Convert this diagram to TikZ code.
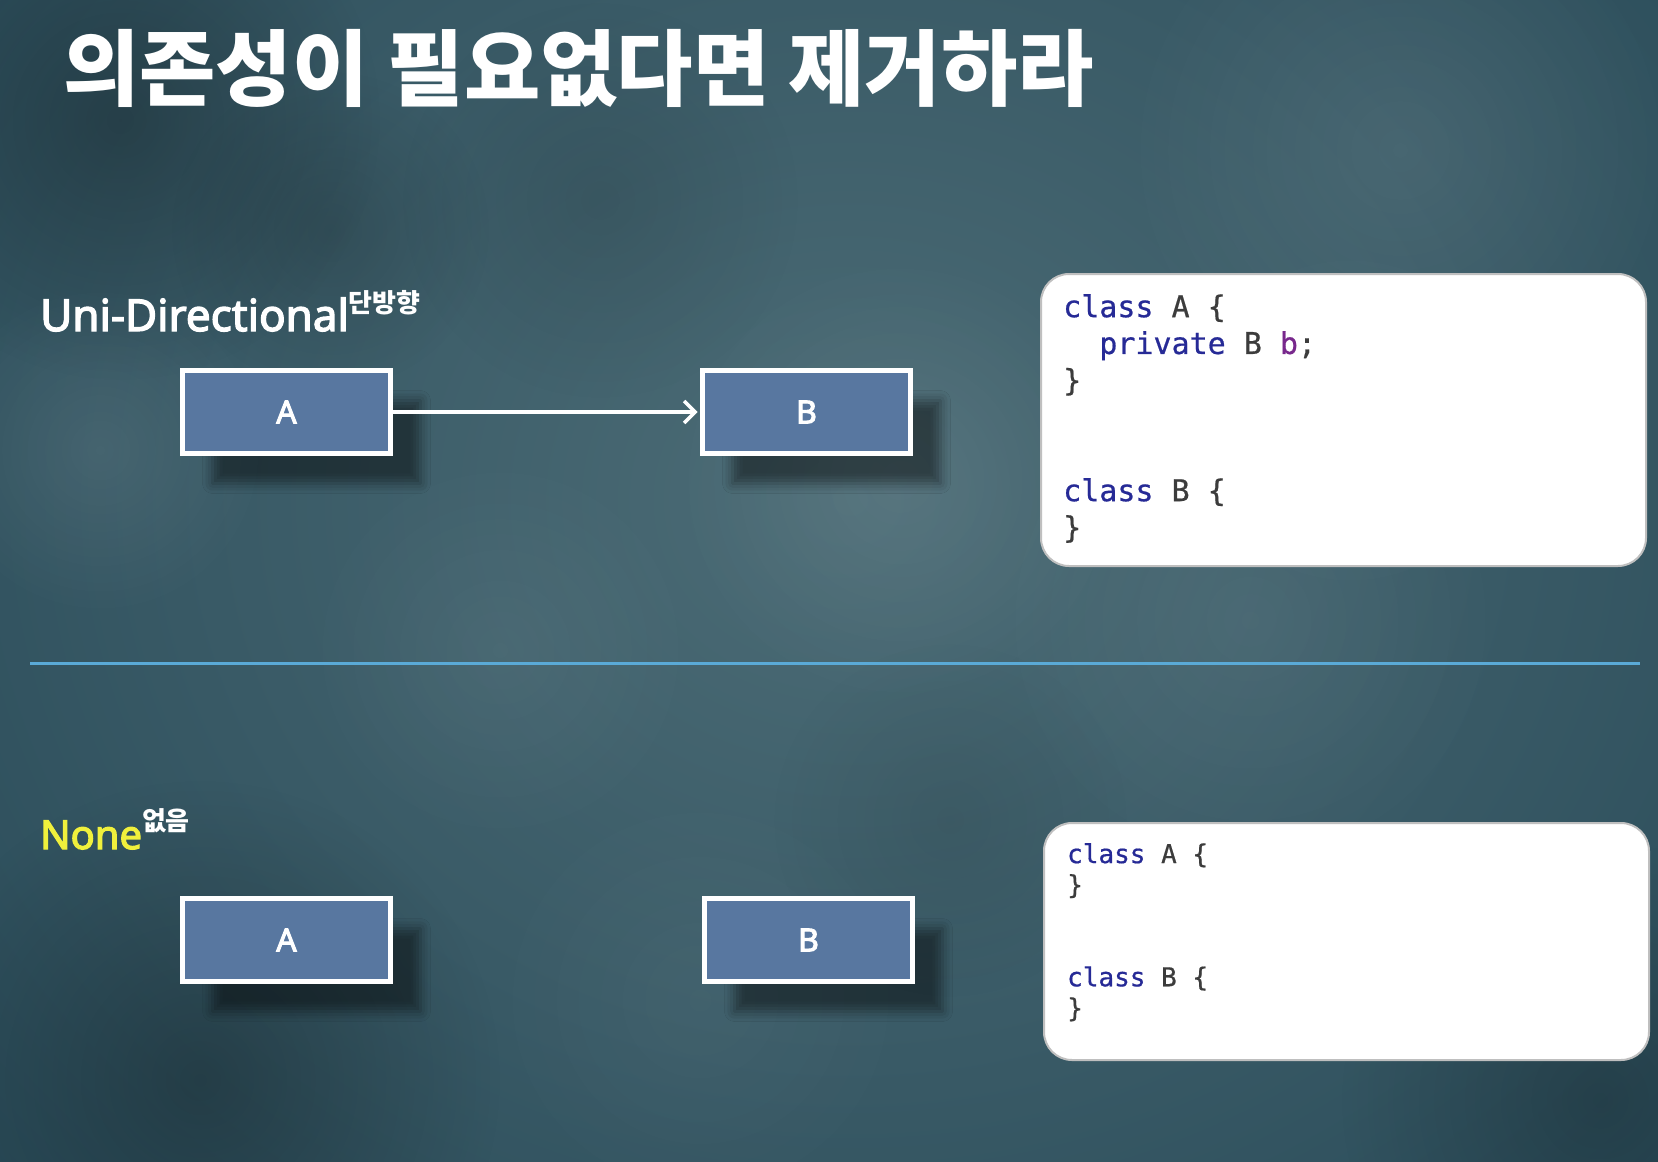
\documentclass[tikz,border=0pt]{standalone}
\usepackage{fontspec}
\setmainfont{Noto Sans}
\newfontfamily\lblfont{Noto Sans}[FakeBold=3]
\newfontfamily\krfont{Noto Sans CJK KR}
\newfontfamily\codefont{DejaVu Sans Mono}[FakeBold=0.6]
\usetikzlibrary{positioning, arrows.meta, shadows.blur, fadings}

\definecolor{bgDark}{RGB}{20,44,56}
\definecolor{bgMid}{RGB}{38,72,86}
\definecolor{bgLight}{RGB}{76,108,118}
\definecolor{boxBlue}{RGB}{88,119,160}
\definecolor{sepBlue}{RGB}{90,170,215}
\definecolor{noneYellow}{RGB}{240,240,60}
\definecolor{kwBlue}{RGB}{38,42,150}
\definecolor{varPurple}{RGB}{120,40,140}
\definecolor{codeGray}{RGB}{60,60,60}

\pgfdeclareradialshading{bgglow}{\pgfpoint{0bp}{0bp}}{color(0bp)=(bgLight); color(28bp)=(bgMid); color(50bp)=(bgDark)}
\tikzfading[name=fuzzy, inner color=transparent!0, outer color=transparent!100]

\newcommand{\kwd}[1]{\textcolor{kwBlue}{#1}}
\newcommand{\supkr}{\krfont\bfseries\fontsize{26}{26}\selectfont}

\begin{document}
\begin{tikzpicture}[
		x=1pt, y=-1pt,
		ttl/.style  = {text=white, inner sep=0pt, font=\krfont\bfseries\fontsize{83}{83}\selectfont},
		lbl/.style  = {text=white, inner sep=0pt, font=\lblfont\fontsize{44}{44}\selectfont},
		cls/.style  = {draw=white, line width=5pt, fill=boxBlue, minimum width=208pt, minimum height=83pt,
			text=white, font=\lblfont\fontsize{32}{32}\selectfont,
			blur shadow={shadow xshift=30pt, shadow yshift=-30pt, shadow blur radius=10pt, shadow opacity=45}},
		code/.style = {draw=gray!50, line width=2pt, fill=white, rounded corners=28pt, minimum width=605pt},
		codetxt/.style = {inner sep=0pt, align=left, text=codeGray},
		arr/.style  = {white, line width=3.5pt, shorten >=2.5pt, -{Straight Barb[length=11pt,width=22pt]}}]
		
		\useasboundingbox (0,0) rectangle (1658,1162);
		
		% background, dark slate with some lighter patches
		\begin{scope}
		\clip (0,0) rectangle (1658,1162);
		\shade[shading=bgglow] (-300,-500) rectangle (2000,1500);
		\foreach \x/\y/\r/\c/\o in {1400/150/280/white/.08, 900/480/230/white/.07, 1250/620/260/white/.06,
			500/650/200/white/.05, 100/450/170/white/.08, 700/1000/220/white/.04, 1350/420/180/white/.05,
			120/120/260/black/.25, 200/1080/300/black/.25, 1600/1100/260/black/.2, 330/230/160/black/.15,
			600/200/200/black/.1, 950/820/180/black/.08}
		\fill[\c, opacity=\o, path fading=fuzzy] (\x,\y) circle (\r);
		\end{scope}
		
		% title
		\node[ttl, anchor=base west] (title) at (63,99) {의존성이 필요없다면 제거하라};
		
		% upper half, A knows B
		\node[lbl, anchor=base west] (uniLbl) at (40,331) {Uni-Directional\raisebox{19pt}{\supkr 단방향}};
		\node[cls] (uniA) at (286.5,412) {A};
		\node[cls, right=307pt of uniA] (uniB) {B};
		\draw[arr] (uniA) -- (uniB);
		
		\node[code, anchor=north west, minimum height=292pt] (codeUni) at (1040,273) {};
		\node[codetxt, anchor=north west, font=\codefont\fontsize{30}{36.8}\selectfont]
			(codeUniTxt) at ([xshift=23pt, yshift=-21pt]codeUni.north west)
			{\kwd{class} A \{\\
			\ \ \kwd{private} B \textcolor{varPurple}{b};\\
			\}\\[73.6pt]
			\kwd{class} B \{\\
			\}};
		
		% separator
		\coordinate (sepL) at (30,663);
		\coordinate (sepR) at (1640,663);
		\draw[sepBlue, line width=3pt] (sepL) -- (sepR);
		
		% lower half, no dependency
		\node[lbl, text=noneYellow, anchor=base west, font=\lblfont\fontsize{40}{40}\selectfont] (noneLbl) at (40,849)
			{None\raisebox{19pt}{\supkr\textcolor{white}{없음}}};
		\node[cls, below=440pt of uniA] (noA) {A};
		\node[cls, right=309pt of noA] (noB) {B};
		
		\node[code, anchor=north west, minimum height=237pt] (codeNone) at (1043,822) {};
		\node[codetxt, anchor=north west, font=\codefont\fontsize{26}{30.8}\selectfont]
			(codeNoneTxt) at ([xshift=24pt, yshift=-21pt]codeNone.north west)
			{\kwd{class} A \{\\
			\}\\[61.6pt]
			\kwd{class} B \{\\
			\}};
		\end{tikzpicture}
\end{document}
